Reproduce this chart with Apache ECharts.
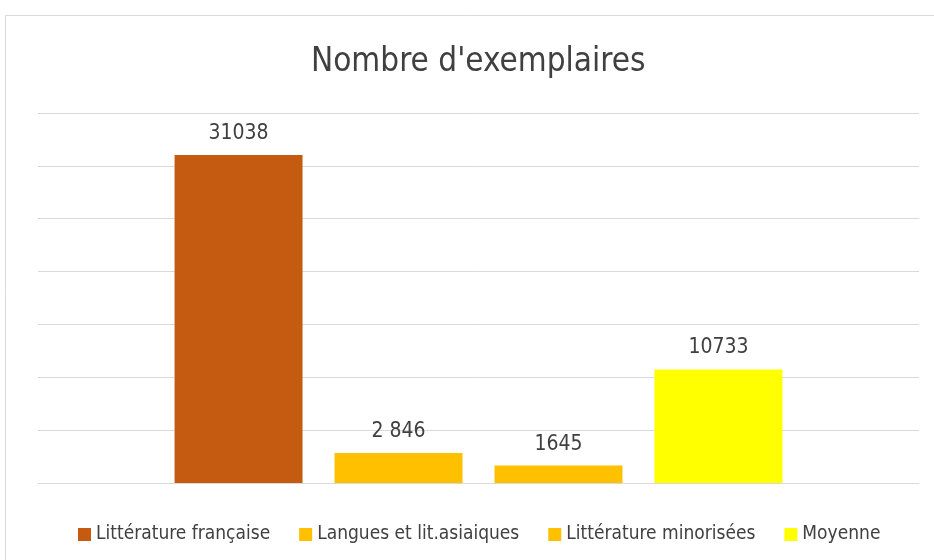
<!DOCTYPE html>
<html>
<head>
<meta charset="utf-8">
<script src="https://cdn.jsdelivr.net/npm/echarts@6/dist/echarts.min.js"></script>
<style>
  html, body { margin: 0; padding: 0; background: #fff; }
  #chart { width: 934px; height: 560px; }
</style>
</head>
<body>
<div id="chart"></div>
<script>
var seriesNames = ["Littérature française", "Langues et lit.asiaiques", "Littérature minorisées", "Moyenne"];
var seriesValues = [31038, 2846, 1645, 10733];
var valueLabels = ["31038", "2 846", "1645", "10733"];
var seriesColors = ["#C55A11", "#FFC000", "#FFC000", "#FFFF00"];

var font = "'Liberation Sans Narrow', 'DejaVu Sans Condensed', sans-serif";
var chart = echarts.init(document.getElementById("chart"));

var series = seriesNames.map(function (name, i) {
    return {
        name: name,
        type: "bar",
        data: [seriesValues[i]],
        itemStyle: { color: seriesColors[i] },
        barGap: "25%",
        barCategoryGap: "31%",
        label: {
            show: true,
            position: "top",
            distance: 11,
            color: "#404040",
            fontSize: 21,
            fontFamily: font,
            formatter: function () { return valueLabels[i]; }
        }
    };
});

chart.setOption({
    animation: false,
    backgroundColor: "#fff",
    graphic: [{
        type: "rect",
        shape: { x: 5.5, y: 15.5, width: 940, height: 560 },
        style: { fill: "none", stroke: "#d9d9d9", lineWidth: 1 }
    }],
    title: {
        text: "Nombre d'exemplaires",
        left: 306,
        top: 41,
        textStyle: { fontSize: 33, fontWeight: "normal", color: "#404040", fontFamily: font }
    },
    legend: {
        bottom: 11,
        left: 73,
        itemWidth: 13,
        itemHeight: 13,
        itemGap: 29,
        icon: "rect",
        textStyle: { fontSize: 19, color: "#404040", fontFamily: font }
    },
    grid: { left: 38, right: 15, top: 113, bottom: 77, containLabel: false },
    xAxis: {
        type: "category",
        data: [""],
        axisLine: { lineStyle: { color: "#d9d9d9" } },
        axisTick: { show: false },
        axisLabel: { show: false }
    },
    yAxis: {
        type: "value",
        min: 0,
        max: 35000,
        interval: 5000,
        axisLine: { show: false },
        axisTick: { show: false },
        axisLabel: { show: false },
        splitLine: { lineStyle: { color: "#d9d9d9" } }
    },
    series: series
});
</script>
</body>
</html>
